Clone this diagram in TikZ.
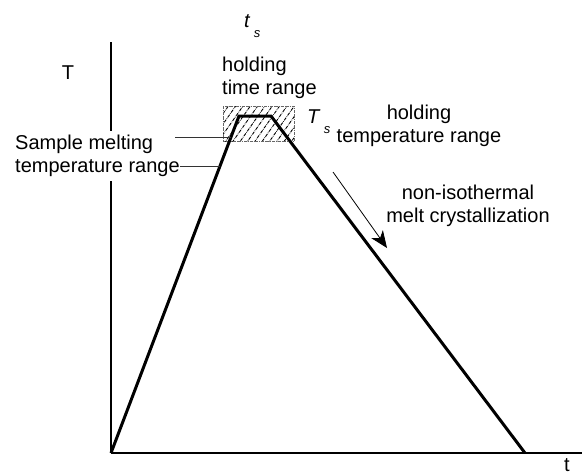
\documentclass[tikz,border=0pt]{standalone}
\usepackage{fontspec}
\setmainfont{Liberation Sans}
\usetikzlibrary{arrows.meta, patterns.meta, calc}
\newcommand{\subsfont}{\fontsize{13}{13}\selectfont\itshape}

\begin{document}
\begin{tikzpicture}[x=1pt, y=-1pt,
    lbl/.style={font=\fontsize{20}{23}\selectfont, inner sep=0pt},
    axis/.style={line width=1.2pt},
    profile/.style={line width=3pt, line join=miter},
    leader/.style={line width=0.8pt, black!80}]
    \useasboundingbox (0,0) rectangle (582,474);

    % Define the points of the temperature profile
    \coordinate (O) at (111,453);
    \coordinate (Y) at (111,42);
    \coordinate (X) at (582,453);
    \coordinate (P) at (239,116);
    \coordinate (Q) at (271,116);
    \coordinate (R) at (525,453);

    % Holding window (hatched)
    \draw[pattern={Lines[angle=55, distance=6pt, line width=0.9pt]}, pattern color=black,
          draw=black!60, line width=0.6pt, densely dashdotted] (223,106) rectangle (294,141);

    % Axes and the profile
    \draw[axis] (O) -- (Y);
    \draw[axis] (O) -- (X);
    \draw[profile] (O) -- (P) -- (Q) -- (R);

    % Labels
    \node[lbl] (Tlab) at (68,73) {T};
    \node[lbl, anchor=base] (tlab) at (567,471) {t};
    \node[lbl, anchor=base west] (ts) at (244,27) {\textit{t}\raisebox{-10pt}{\,\subsfont s}};
    \node[lbl, anchor=base west] (Ts) at (307,123) {\textit{T}\raisebox{-10pt}{\,\subsfont s}};
    \node[lbl, anchor=north west, align=left] (hold) at (222,57) {holding\\time range};
    \node[lbl, anchor=north, align=center] (htemp) at (419,105) {holding\\temperature range};
    \node[lbl, anchor=north, align=center] (cryst) at (468,185) {non-isothermal\\melt crystallization};
    \node[lbl, anchor=north west, align=left, fill=white, inner xsep=0pt, inner ysep=4pt] (melt) at (15,131) {Sample melting\\temperature range};

    % Leader lines to the rising ramp
    \coordinate (L1) at (175,137);
    \coordinate (M1) at ($(O)!0.938!(P)$);
    \coordinate (M2) at ($(O)!0.849!(P)$);
    \draw[leader] (L1) -- (L1 -| M1);
    \draw[leader] (melt.east |- M2) -- (M2);

    % Cooling arrow
    \coordinate (A1) at (333,172);
    \coordinate (A2) at (387,248);
    \draw[line width=0.8pt, -{Stealth[length=17pt, width=14pt, inset=5pt]}] (A1) -- (A2);
\end{tikzpicture}
\end{document}
